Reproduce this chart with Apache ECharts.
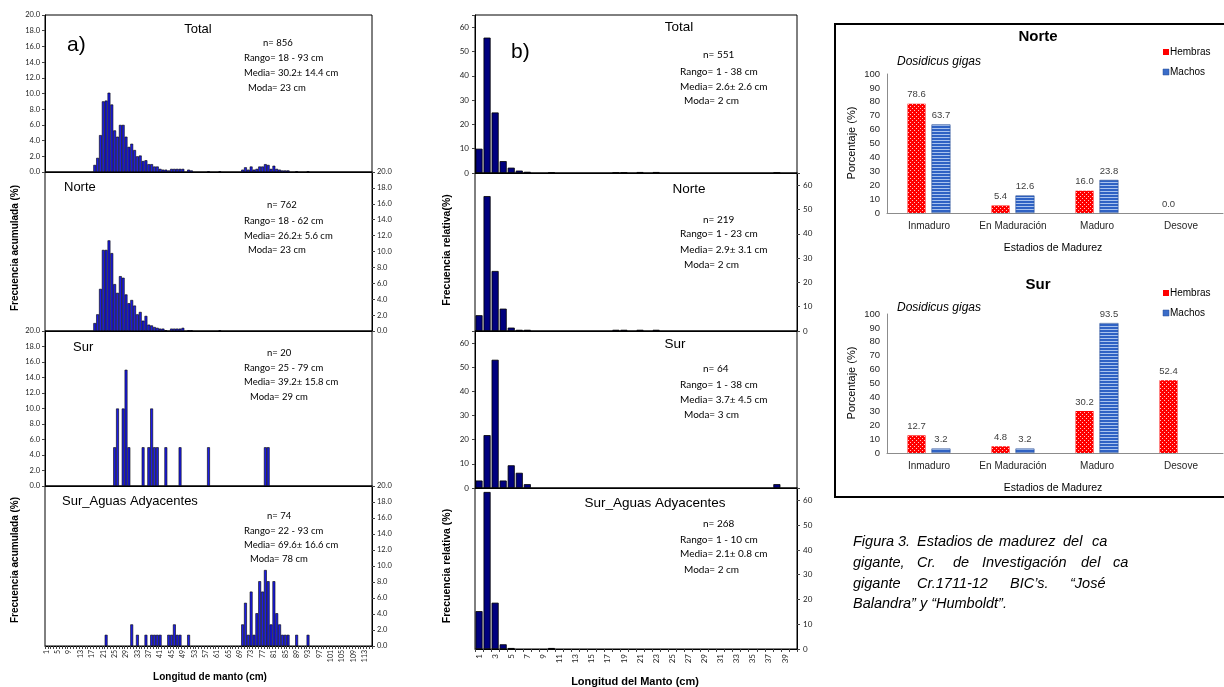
<!DOCTYPE html>
<html>
<head>
<meta charset="utf-8">
<script src="https://cdn.jsdelivr.net/npm/echarts@6/dist/echarts.min.js"></script>
<style>
  html, body { margin: 0; padding: 0; background: #fff; }
  #chart { width: 1224px; height: 687px; }
</style>
</head>
<body>
<div id="chart"></div>
<script>
// ---- Length classes (cm) ----
const tallaA = Array.from({ length: 115 }, (_, i) => String(i + 1));
const tallaB = Array.from({ length: 40 }, (_, i) => String(i + 1));

// ---- a) Frecuencia acumulada (%) by length class: [cm, %] ----
const freqTotalA = [[18,0.9],[19,1.8],[20,4.7],[21,9.0],[22,9.1],[23,10.1],[24,8.6],[25,5.3],[26,4.5],[27,6.0],
  [28,6.0],[29,4.5],[30,3.2],[31,3.6],[32,2.8],[33,2.0],[34,2.1],[35,1.4],[36,1.5],[37,1.0],[38,1.0],[39,0.7],
  [40,0.7],[41,0.4],[42,0.3],[43,0.3],[44,0.2],[45,0.4],[46,0.4],[47,0.4],[48,0.4],[49,0.4],[51,0.3],[52,0.2],
  [58,0.1],[62,0.1],[70,0.3],[71,0.6],[72,0.3],[73,0.7],[74,0.3],[75,0.4],[76,0.7],[77,0.7],[78,1.0],[79,0.9],
  [80,0.4],[81,0.8],[82,0.4],[83,0.3],[84,0.2],[85,0.2],[86,0.2],[89,0.1],[93,0.1]];
const freqNorteA = [[18,1.0],[19,2.1],[20,5.3],[21,10.2],[22,10.2],[23,11.4],[24,9.8],[25,5.9],[26,4.8],[27,6.9],
  [28,6.7],[29,4.6],[30,3.5],[31,3.9],[32,3.2],[33,2.1],[34,2.4],[35,1.3],[36,1.9],[37,0.8],[38,0.7],[39,0.5],
  [40,0.4],[41,0.3],[42,0.3],[43,0.1],[45,0.3],[46,0.3],[47,0.3],[48,0.3],[49,0.4],[51,0.1],[52,0.1],[62,0.1]];
const freqSurA = [[25,5],[26,10],[28,10],[29,15],[30,5],[35,5],[37,5],[38,10],[39,5],[40,5],[43,5],[48,5],
  [58,5],[78,5],[79,5]];
const freqSurAdyA = [[22,1.4],[31,2.7],[33,1.4],[36,1.4],[38,1.4],[39,1.4],[40,1.4],[41,1.4],[44,1.4],[45,1.4],
  [46,2.7],[47,1.4],[48,1.4],[51,1.4],[70,2.7],[71,5.4],[72,1.4],[73,6.8],[74,1.4],[75,4.1],[76,8.1],[77,6.8],
  [78,9.5],[79,8.1],[80,2.7],[81,8.1],[82,4.1],[83,2.7],[84,1.4],[85,1.4],[86,1.4],[89,1.4],[93,1.4]];

// ---- b) Frecuencia relativa (%) by length class: [cm, %] ----
const freqTotalB = [[1,10.0],[2,55.7],[3,24.9],[4,4.9],[5,2.2],[6,1.0],[7,0.5],[10,0.2],[18,0.2],[19,0.2],
  [21,0.4],[23,0.4],[38,0.2]];
const freqNorteB = [[1,6.5],[2,55.5],[3,24.7],[4,9.2],[5,1.4],[6,0.5],[7,0.5],[18,0.5],[19,0.5],[21,0.5],[23,0.5]];
const freqSurB = [[1,3.1],[2,21.9],[3,53.1],[4,3.1],[5,9.4],[6,6.3],[7,1.6],[38,1.6]];
const freqSurAdyB = [[1,15.3],[2,63.4],[3,18.7],[4,1.9],[5,0.4],[10,0.4]];

// ---- Estadios de madurez (%) ----
const estadios = ['Inmaduro', 'En Maduración', 'Maduro', 'Desove'];
const norteHembras = [78.6, 5.4, 16.0, 0.0];
const norteMachos = [63.7, 12.6, 23.8, null];
const surHembras = [12.7, 4.8, 30.2, 52.4];
const surMachos = [3.2, 3.2, 93.5, null];

// ---- Summary labels ----
const statsA = [
  ['n= 856', 'Rango= 18 - 93 cm', 'Media= 30.2\u00b1 14.4 cm', 'Moda= 23 cm'],
  ['n= 762', 'Rango= 18 - 62 cm', 'Media= 26.2\u00b1 5.6 cm', 'Moda= 23 cm'],
  ['n= 20', 'Rango= 25 - 79 cm', 'Media= 39.2\u00b1 15.8 cm', 'Moda= 29 cm'],
  ['n= 74', 'Rango= 22 - 93 cm', 'Media= 69.6\u00b1 16.6 cm', 'Moda= 78 cm']
];
const statsB = [
  ['n= 551', 'Rango= 1 - 38 cm', 'Media= 2.6\u00b1 2.6 cm', 'Moda= 2 cm'],
  ['n= 219', 'Rango= 1 - 23 cm', 'Media= 2.9\u00b1 3.1 cm', 'Moda= 2 cm'],
  ['n= 64', 'Rango= 1 - 38 cm', 'Media= 3.7\u00b1 4.5 cm', 'Moda= 3 cm'],
  ['n= 268', 'Rango= 1 - 10 cm', 'Media= 2.1\u00b1 0.8 cm', 'Moda= 2 cm']
];
const zonas = ['Total', 'Norte', 'Sur', 'Sur_Aguas Adyacentes'];

// expand [class, value] pairs onto the full category list
function dense(pairs, n) {
  const out = new Array(n).fill(null);
  pairs.forEach(([k, v]) => { out[k - 1] = v; });
  return out;
}

// fill patterns for the maturity bars
function dotPattern() {
  const c = document.createElement('canvas');
  c.width = 4; c.height = 4;
  const g = c.getContext('2d');
  g.fillStyle = '#FF0000'; g.fillRect(0, 0, 4, 4);
  g.fillStyle = '#FFC8C8'; g.fillRect(0, 0, 1, 1); g.fillRect(2, 2, 1, 1);
  return c;
}
function stripePattern() {
  const c = document.createElement('canvas');
  c.width = 4; c.height = 3;
  const g = c.getContext('2d');
  g.fillStyle = '#2F62C4'; g.fillRect(0, 0, 4, 3);
  g.fillStyle = '#A9C3EE'; g.fillRect(0, 2, 4, 1);
  return c;
}

const SANS = '"Liberation Sans", Arial, sans-serif';
const CAL = 'Lato, "Liberation Sans", sans-serif';

const grids = [], xAxes = [], yAxes = [], series = [];

// ---- panel a ----
const layoutA = [[15, 157], [172, 159], [331, 155], [486, 160]];
const dataA = [freqTotalA, freqNorteA, freqSurA, freqSurAdyA];
layoutA.forEach(([top, h], i) => {
  grids.push({ left: 45, top, width: 327, height: h, show: true, borderColor: '#000', borderWidth: 1,
    backgroundColor: 'transparent', outerBoundsMode: 'none', containLabel: false });
  const gi = grids.length - 1;
  const last = i === 3;
  xAxes.push({ type: 'category', gridIndex: gi, data: tallaA,
    axisLine: { show: true, lineStyle: { color: '#000', width: 1 } },
    axisTick: { show: last, interval: 0, length: 3, lineStyle: { color: '#444' } },
    axisLabel: { show: last, interval: 3, rotate: 90, fontSize: 7, fontFamily: CAL, color: '#222', margin: 4 },
    splitLine: { show: false } });
  yAxes.push({ type: 'value', gridIndex: gi, min: 0, max: 20, interval: 2, position: i % 2 ? 'right' : 'left',
    axisLine: { show: true, lineStyle: { color: '#000' } },
    axisTick: { show: true, length: 3, lineStyle: { color: '#444' } },
    axisLabel: { fontSize: 7.5, fontFamily: CAL, color: '#222', margin: 5, formatter: v => v.toFixed(1) },
    splitLine: { show: false } });
  series.push({ type: 'bar', xAxisIndex: gi, yAxisIndex: gi, data: dense(dataA[i], 115), barCategoryGap: '0%',
    itemStyle: { color: '#1c1ce6', borderColor: '#000', borderWidth: 0.6 }, silent: true });
});

// ---- panel b ----
const layoutB = [[15, 158], [173, 158], [331, 157], [488, 161]];
const dataB = [freqTotalB, freqNorteB, freqSurB, freqSurAdyB];
layoutB.forEach(([top, h], i) => {
  grids.push({ left: 475, top, width: 322, height: h, show: true, borderColor: '#000', borderWidth: 1,
    backgroundColor: 'transparent', outerBoundsMode: 'none', containLabel: false });
  const gi = grids.length - 1;
  const last = i === 3;
  xAxes.push({ type: 'category', gridIndex: gi, data: tallaB,
    axisLine: { show: true, lineStyle: { color: '#000', width: 1 } },
    axisTick: { show: last, interval: 0, length: 3, lineStyle: { color: '#444' } },
    axisLabel: { show: last, interval: 1, rotate: 90, fontSize: 8, fontFamily: CAL, color: '#222', margin: 5 },
    splitLine: { show: false } });
  yAxes.push({ type: 'value', gridIndex: gi, min: 0, max: 65, interval: 10, position: i % 2 ? 'right' : 'left',
    axisLine: { show: true, lineStyle: { color: '#000' } },
    axisTick: { show: true, length: 3, lineStyle: { color: '#444' } },
    axisLabel: { fontSize: 8, fontFamily: CAL, color: '#222', margin: 6, formatter: v => (v > 60 ? '' : String(v)) },
    splitLine: { show: false } });
  series.push({ type: 'bar', xAxisIndex: gi, yAxisIndex: gi, data: dense(dataB[i], 40), barCategoryGap: '12%',
    itemStyle: { color: '#00007e', borderColor: '#000', borderWidth: 0.8 }, silent: true });
});

// ---- maturity stages ----
const dots = { image: dotPattern(), repeat: 'repeat' };
const stripes = { image: stripePattern(), repeat: 'repeat' };
const layoutR = [[74, norteHembras, norteMachos], [314, surHembras, surMachos]];
layoutR.forEach(([top, hem, mac]) => {
  grids.push({ left: 887, top, width: 336, height: 139, show: false, outerBoundsMode: 'none', containLabel: false });
  const gi = grids.length - 1;
  xAxes.push({ type: 'category', gridIndex: gi, data: estadios,
    axisLine: { show: true, lineStyle: { color: '#8c8c8c', width: 1 } },
    axisTick: { show: false },
    axisLabel: { interval: 0, fontSize: 10, fontFamily: SANS, color: '#262626', margin: 8 },
    splitLine: { show: false } });
  yAxes.push({ type: 'value', gridIndex: gi, min: 0, max: 100, interval: 10,
    axisLine: { show: true, lineStyle: { color: '#8c8c8c' } },
    axisTick: { show: false },
    axisLabel: { fontSize: 9.5, fontFamily: SANS, color: '#262626', margin: 7 },
    splitLine: { show: false } });
  const lbl = { show: true, position: 'top', distance: 4, fontSize: 9.5, fontFamily: SANS, color: '#404040',
    formatter: p => (p.value == null ? '' : Number(p.value).toFixed(1)) };
  series.push({ type: 'bar', name: 'Hembras', xAxisIndex: gi, yAxisIndex: gi, data: hem, barWidth: 18, barGap: '33%',
    itemStyle: { color: dots, borderWidth: 0 }, label: lbl, silent: true });
  series.push({ type: 'bar', name: 'Machos', xAxisIndex: gi, yAxisIndex: gi, data: mac, barWidth: 19, barGap: '33%',
    itemStyle: { color: stripes, borderColor: '#2a4f95', borderWidth: 0.6 }, label: lbl, silent: true });
});

// ---- text elements ----
function txt(text, x, y, font, align, rotation) {
  return { type: 'text', x, y, rotation: rotation || 0, silent: true, z: 100,
    style: { text, font, fill: '#000', align: align || 'left', verticalAlign: 'middle',
      textAlign: align || 'left', textVerticalAlign: 'middle' } };
}
const g = [];
// panel a labels
g.push(txt('a)', 67, 45, '21px ' + SANS));
g.push(txt(zonas[0], 198, 29, '13px ' + SANS, 'center'));
g.push(txt(zonas[1], 64, 187, '13px ' + SANS));
g.push(txt(zonas[2], 73, 347, '13px ' + SANS));
g.push(txt(zonas[3], 62, 501, '13px ' + SANS));
const statYA = [[43, 58, 73, 88], [205, 221, 236, 250], [353, 368, 382, 397], [516, 531, 545, 559]];
const statXA = [[263, 244, 244, 248], [267, 244, 244, 248], [267, 244, 244, 250], [267, 244, 244, 250]];
statsA.forEach((lines, i) => lines.forEach((t, j) =>
  g.push(txt(t, statXA[i][j], statYA[i][j], '9.5px ' + CAL))));
g.push(txt('Frecuencia acumulada (%)', 15, 248, 'bold 10px ' + SANS, 'center', Math.PI / 2));
g.push(txt('Frecuencia acumulada (%)', 15, 560, 'bold 10px ' + SANS, 'center', Math.PI / 2));
g.push(txt('Longitud de manto (cm)', 210, 677, 'bold 10px ' + SANS, 'center'));

// panel b labels
g.push(txt('b)', 511, 52, '21px ' + SANS));
g.push(txt(zonas[0], 679, 27, '13.5px ' + SANS, 'center'));
g.push(txt(zonas[1], 689, 189, '13.5px ' + SANS, 'center'));
g.push(txt(zonas[2], 675, 344, '13.5px ' + SANS, 'center'));
g.push(txt(zonas[3], 655, 503, '13.5px ' + SANS, 'center'));
const statYB = [[55, 72, 87, 101], [220, 234, 250, 265], [369, 385, 400, 415], [524, 540, 554, 570]];
statsB.forEach((lines, i) => lines.forEach((t, j) =>
  g.push(txt(t, [703, 680, 680, 684][j], statYB[i][j], '10px ' + CAL))));
g.push(txt('Frecuencia relativa(%)', 447, 250, 'bold 10.5px ' + SANS, 'center', Math.PI / 2));
g.push(txt('Frecuencia relativa (%)', 447, 566, 'bold 10.5px ' + SANS, 'center', Math.PI / 2));
g.push(txt('Longitud del Manto (cm)', 635, 682, 'bold 11px ' + SANS, 'center'));

// maturity panels
g.push({ type: 'rect', silent: true, shape: { x: 835, y: 24, width: 400, height: 473 },
  style: { fill: 'none', stroke: '#000', lineWidth: 2 } });
[[37, 62, 52, 143, 248, 'Norte'], [285, 308, 293, 383, 488, 'Sur']].forEach(([ty, dy, ly, py, ey, name]) => {
  g.push(txt(name, 1038, ty, 'bold 15px ' + SANS, 'center'));
  g.push(txt('Dosidicus gigas', 897, dy, 'italic 12px ' + SANS));
  g.push({ type: 'rect', silent: true, shape: { x: 1163, y: ly - 3, width: 6, height: 6 }, style: { fill: '#FF0000' } });
  g.push(txt('Hembras', 1170, ly, '10px ' + SANS));
  g.push({ type: 'rect', silent: true, shape: { x: 1163, y: ly + 17, width: 6, height: 6 },
    style: { fill: '#3a6cc8', stroke: '#2a4f95', lineWidth: 0.5 } });
  g.push(txt('Machos', 1170, ly + 20, '10px ' + SANS));
  g.push(txt('Porcentaje (%)', 852, py, '11px ' + SANS, 'center', Math.PI / 2));
  g.push(txt('Estadios de Madurez', 1053, ey, '10.5px ' + SANS, 'center'));
});

// caption (justified lines)
const capFont = 'italic 14.5px ' + SANS;
const caption = [
  [542, [['Figura', 853], ['3.', 898], ['Estadios', 917], ['de', 977], ['madurez', 999], ['del', 1063], ['ca', 1092]]],
  [563, [['gigante,', 853], ['Cr.', 917], ['de', 953], ['Investigación', 982], ['del', 1081], ['ca', 1113]]],
  [584, [['gigante', 853], ['Cr.1711-12', 917], ['BIC\u2019s.', 1010], ['\u201cJosé', 1070]]],
  [604, [['Balandra\u201d y \u201cHumboldt\u201d.', 853]]]
];
caption.forEach(([y, words]) => words.forEach(([w, x]) => g.push(txt(w, x, y, capFont))));

const chart = echarts.init(document.getElementById('chart'), null, { renderer: 'canvas' });
chart.setOption({
  animation: false,
  backgroundColor: '#fff',
  textStyle: { fontFamily: SANS },
  grid: grids,
  xAxis: xAxes,
  yAxis: yAxes,
  series,
  graphic: { elements: g }
});
</script>
</body>
</html>
